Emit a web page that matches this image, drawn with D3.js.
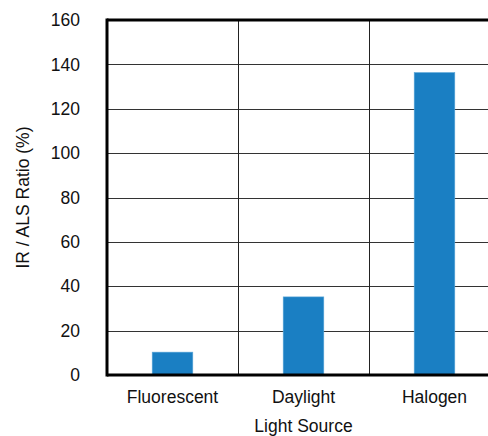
<!DOCTYPE html>
<meta charset="utf-8">
<head>
<style>
body { margin: 0; background: #fff; }
text { font-family: "Liberation Sans", Arial, sans-serif; fill: #111; font-size: 17.5px; }
.grid line { stroke: #333; stroke-width: 1px; shape-rendering: crispEdges; }
.grid path { display: none; }
</style>
<script src="https://d3js.org/d3.v7.min.js"></script>
</head>
<body>
<script>

// chart data
var sources = ["Fluorescent", "Daylight", "Halogen"];
var ratios = [10.3, 35.2, 136.3];
var yTicks = [0, 20, 40, 60, 80, 100, 120, 140, 160];

var margin = {top: 20, right: -12, bottom: 61, left: 107},
    width = 488 - margin.left - margin.right,
    height = 436 - margin.top - margin.bottom;

var x = d3.scaleBand().domain(sources).range([0, width]).paddingInner(0).paddingOuter(0);
var y = d3.scaleLinear().domain([0, 160]).range([height, 0]);

var svg = d3.select("body").append("svg")
    .attr("width", 488)
    .attr("height", 436)
  .append("g")
    .attr("transform", "translate(" + margin.left + "," + margin.top + ")");

// horizontal gridlines
svg.append("g")
    .attr("class", "grid")
    .call(d3.axisLeft(y).tickValues(yTicks).tickSize(-width).tickFormat(""));

// vertical separators between categories
svg.selectAll(".sep")
    .data(sources.slice(1))
  .enter().append("line")
    .attr("class", "sep")
    .attr("x1", d => Math.round(x(d)) + 0.5)
    .attr("x2", d => Math.round(x(d)) + 0.5)
    .attr("y1", 0)
    .attr("y2", height)
    .attr("stroke", "#222")
    .attr("stroke-width", 1);

// bars
var barW = x.bandwidth() * 0.31;
svg.selectAll(".bar")
    .data(ratios)
  .enter().append("rect")
    .attr("class", "bar")
    .attr("x", (d, i) => x(sources[i]) + x.bandwidth() / 2 - barW / 2)
    .attr("width", barW)
    .attr("y", d => y(d))
    .attr("height", d => y(0) - y(d))
    .attr("fill", "#1a7fc3")
    .attr("stroke", "#5aa6d8")
    .attr("stroke-width", 0.6);

// frame: top, left, bottom
svg.append("line").attr("x1", 0).attr("x2", width).attr("y1", 0).attr("y2", 0)
    .attr("stroke", "#000").attr("stroke-width", 3);
svg.append("line").attr("x1", 0).attr("x2", width).attr("y1", height).attr("y2", height)
    .attr("stroke", "#000").attr("stroke-width", 3);
svg.append("line").attr("x1", 0).attr("x2", 0).attr("y1", -1.5).attr("y2", height + 1.5)
    .attr("stroke", "#000").attr("stroke-width", 3);

// y tick labels
svg.selectAll(".ylab")
    .data(yTicks)
  .enter().append("text")
    .attr("x", -27)
    .attr("y", d => y(d))
    .attr("dy", "0.35em")
    .attr("text-anchor", "end")
    .text(d => d);

// x tick labels
svg.selectAll(".xlab")
    .data(sources)
  .enter().append("text")
    .attr("x", d => x(d) + x.bandwidth() / 2)
    .attr("y", height + 28)
    .attr("text-anchor", "middle")
    .text(d => d);

// axis titles
svg.append("text")
    .attr("x", width / 2)
    .attr("y", height + 57)
    .attr("text-anchor", "middle")
    .text("Light Source");

svg.append("text")
    .attr("transform", "rotate(-90)")
    .attr("x", -height / 2)
    .attr("y", -84)
    .attr("dy", "0.35em")
    .attr("text-anchor", "middle")
    .text("IR / ALS Ratio (%)");

</script>
</body>
</html>
